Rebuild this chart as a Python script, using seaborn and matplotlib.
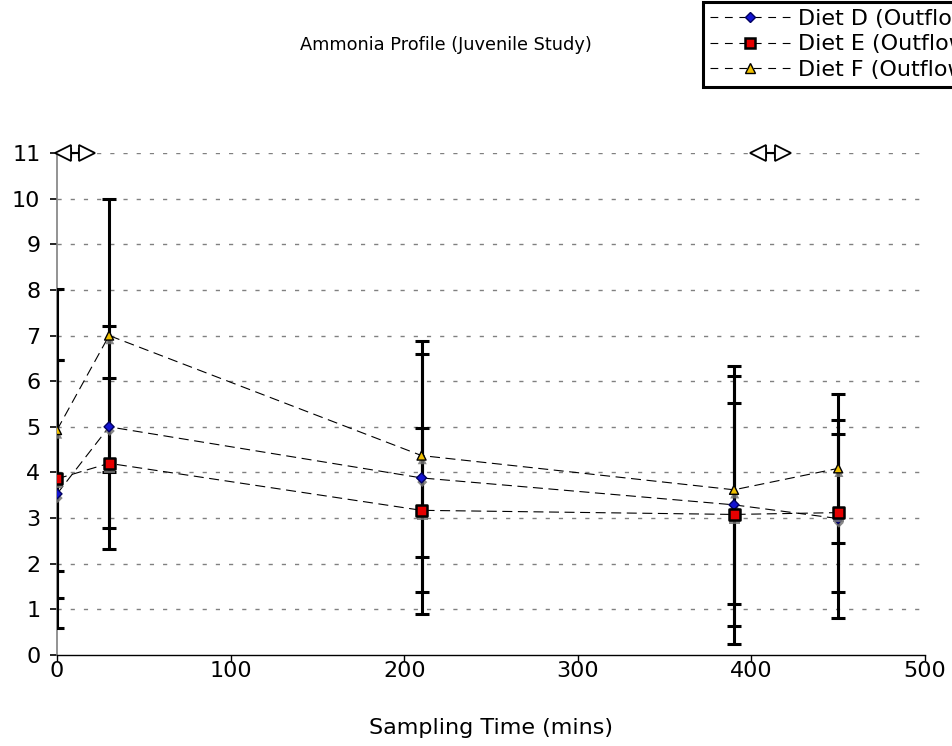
import matplotlib
matplotlib.use("Agg")
import matplotlib.pyplot as plt
import matplotlib.patheffects as pe
from matplotlib.lines import Line2D
import seaborn as sns
import pandas as pd

# Sampling times (mins)
times = [0, 30, 210, 390, 450]

# Mean ammonia per diet and the matching error bar half-widths
diet_d = [3.53, 5.00, 3.88, 3.29, 2.99]
diet_d_err = [2.93, 2.22, 2.99, 3.05, 2.17]
diet_e = [3.86, 4.20, 3.17, 3.08, 3.12]
diet_e_err = [2.61, 1.88, 1.80, 2.45, 1.73]
diet_f = [4.93, 7.00, 4.37, 3.62, 4.09]
diet_f_err = [3.09, 3.00, 2.22, 2.50, 1.63]

labels = ["Diet D (Outflow)", "Diet E (Outflow)", "Diet F (Outflow)"]
y_ticks = list(range(0, 12))
x_ticks = [0, 100, 200, 300, 400, 500]

# Double-arrow range markers along the top gridline
range_marks = [10.4, 411.0]

sns.set_theme(style="white")
plt.rcParams["font.family"] = ["DejaVu Sans"]

FS = 16

fig = plt.figure(figsize=(9.52, 7.46), dpi=100)
ax = fig.add_axes([57 / 952, 1 - 655 / 746, (925 - 57) / 952, (655 - 153) / 746])

styles = [
    dict(marker="D", face="#1414d2", edge="#000060", s=26, lw=1.0),
    dict(marker="s", face="#e60000", edge="black", s=62, lw=1.8),
    dict(marker="^", face="#f0c000", edge="black", s=42, lw=1.0),
]
series = [(diet_d, diet_d_err), (diet_e, diet_e_err), (diet_f, diet_f_err)]

frames = []
for lab, (vals, errs) in zip(labels, series):
    frames.append(pd.DataFrame({"time": times, "ammonia": vals, "err": errs, "diet": lab}))
df = pd.concat(frames, ignore_index=True)

dash = (0, (9, 5))
shadow = [pe.SimplePatchShadow(offset=(0.5, -3), shadow_rgbFace="0.45", alpha=0.85), pe.Normal()]

for lab, st in zip(labels, styles):
    sub = df[df["diet"] == lab]
    sns.lineplot(data=sub, x="time", y="ammonia", ax=ax, color="black",
                 linewidth=0.8, linestyle=dash, zorder=2, legend=False)
    ax.errorbar(sub["time"], sub["ammonia"], yerr=sub["err"], fmt="none",
                ecolor="black", elinewidth=2.2, capsize=5, capthick=2.2, zorder=3)

for lab, st in zip(labels, styles):
    sub = df[df["diet"] == lab]
    sns.scatterplot(data=sub, x="time", y="ammonia", ax=ax, marker=st["marker"],
                    color=st["face"], edgecolor=st["edge"], s=st["s"],
                    linewidth=st["lw"], zorder=5, legend=False)
    ax.collections[-1].set_path_effects(shadow)

# Range markers on the top line
for c in range_marks:
    ax.errorbar([c], [11], xerr=[2.4], fmt="none", ecolor="black",
                elinewidth=1.5, capsize=3.5, capthick=1.5, zorder=6, clip_on=False)
    ax.plot([c - 7.0], [11], marker="<", ms=12, mfc="white", mec="black",
            mew=1.3, zorder=6, clip_on=False)
    ax.plot([c + 7.0], [11], marker=">", ms=12, mfc="white", mec="black",
            mew=1.3, zorder=6, clip_on=False)

ax.set_xlim(0, 500)
ax.set_ylim(0, 11)
ax.set_xticks(x_ticks)
ax.set_yticks(y_ticks)
ax.set_xticklabels([str(t) for t in x_ticks], fontsize=FS)
ax.set_yticklabels([str(t) for t in y_ticks], fontsize=FS)
ax.set_xlabel("Sampling Time (mins)", fontsize=FS, labelpad=27, color="black")
ax.set_ylabel("")

for y in y_ticks[1:]:
    ax.axhline(y, color="#808080", linewidth=1.0, linestyle=(0, (3, 6.5)), zorder=1)

for side in ["top", "right"]:
    ax.spines[side].set_visible(False)
ax.spines["left"].set_color("#808080")
ax.spines["left"].set_linewidth(1.2)
ax.spines["bottom"].set_color("black")
ax.spines["bottom"].set_linewidth(1.0)

ax.tick_params(axis="y", direction="out", length=5, width=1.2, color="black", pad=7,
               left=True, labelcolor="black")
ax.tick_params(axis="x", direction="out", length=4, width=1.0, color="black", pad=0,
               bottom=True, labelcolor="black")

fig.text(446 / 952, 1 - 45 / 746, "Ammonia Profile (Juvenile Study)", fontsize=12.8,
         ha="center", va="center", color="black")

handles = []
for st in styles:
    handles.append(Line2D([0], [0], color="black", linewidth=0.8, linestyle=(0, (7, 6)),
                          marker=st["marker"], markerfacecolor=st["face"],
                          markeredgecolor=st["edge"], markeredgewidth=st["lw"],
                          markersize=(st["s"] ** 0.5)))
leg = fig.legend(handles, labels, loc="upper left",
                 bbox_to_anchor=(703 / 952, 1 - 2 / 746), bbox_transform=fig.transFigure,
                 borderaxespad=0, fontsize=FS, handlelength=3.6, handletextpad=0.37,
                 borderpad=0.3, labelspacing=0.26, fancybox=False, framealpha=1)
leg.get_frame().set_edgecolor("black")
leg.get_frame().set_linewidth(2.2)
for t in leg.get_texts():
    t.set_color("black")

fig.savefig("out.png", dpi=100)
